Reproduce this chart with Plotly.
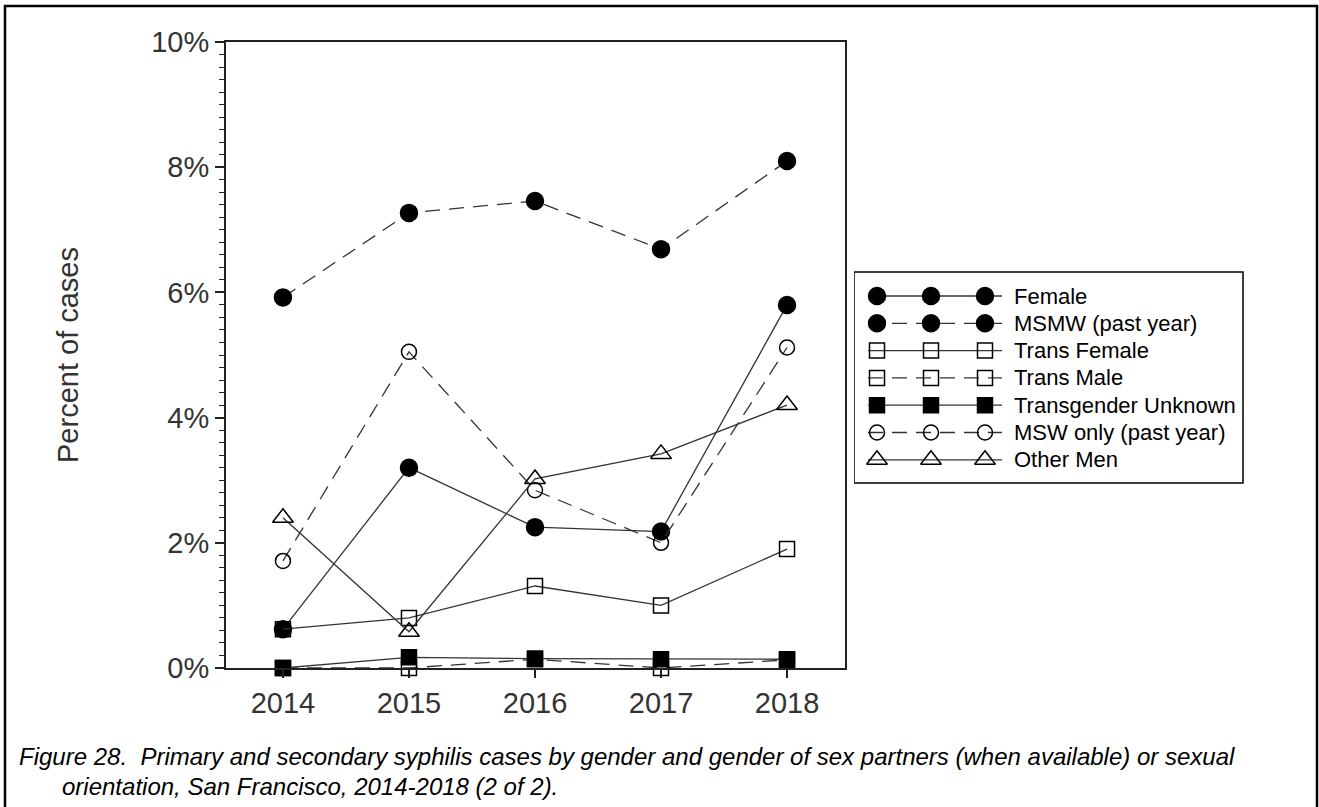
import plotly.graph_objects as go

W, H = 1319, 807

years = [2014, 2015, 2016, 2017, 2018]
female = [0.62, 3.20, 2.25, 2.18, 5.80]
msmw = [5.92, 7.27, 7.46, 6.69, 8.10]
trans_female = [0.62, 0.80, 1.31, 1.00, 1.90]
trans_male = [0.00, 0.00, 0.14, 0.00, 0.13]
trans_unknown = [0.00, 0.17, 0.15, 0.14, 0.14]
msw_only = [1.71, 5.05, 2.84, 2.00, 5.12]
other_men = [2.40, 0.58, 3.02, 3.42, 4.20]

series_names = ["Female", "MSMW (past year)", "Trans Female", "Trans Male",
                "Transgender Unknown", "MSW only (past year)", "Other Men"]
series_values = [female, msmw, trans_female, trans_male, trans_unknown, msw_only, other_men]

y_tick_vals = [0, 2, 4, 6, 8, 10]
y_tick_text = ["0%", "2%", "4%", "6%", "8%", "10%"]

caption1 = "Figure 28.\u00a0 Primary and secondary syphilis cases by gender and gender of sex partners (when available) or sexual"
caption2 = "orientation, San Francisco, 2014-2018 (2 of 2)."

DASH = "15px,9px"
styles = [
    dict(symbol="circle", size=17, dash="solid"),
    dict(symbol="circle", size=17, dash=DASH),
    dict(symbol="square-open", size=15, dash="solid"),
    dict(symbol="square-open", size=15, dash=DASH),
    dict(symbol="square", size=15, dash="solid"),
    dict(symbol="circle-open", size=15, dash=DASH),
    dict(symbol="triangle-up-open", size=18, dash="solid"),
]
LINE_COLOR = "#333333"
FONT = "Liberation Sans, Arial, sans-serif"

fig = go.Figure()

for name, vals, st in zip(series_names, series_values, styles):
    fig.add_trace(go.Scatter(
        x=years, y=vals, name=name, mode="lines+markers",
        line=dict(color=LINE_COLOR, width=1.3, dash=st["dash"]),
        marker=dict(symbol=st["symbol"], size=st["size"], color="#000000", opacity=1,
                    line=dict(color="#000000", width=1.5)),
        cliponaxis=False, showlegend=False,
    ))

# custom legend drawn in a pixel-mapped helper axis
leg_x = [868, 877, 931, 985, 1002]
row0, row_step = 296, 27.3
for i, (name, st) in enumerate(zip(series_names, styles)):
    yy = row0 + i * row_step
    s = st["size"]
    fig.add_trace(go.Scatter(
        x=leg_x, y=[yy] * 5, mode="lines+markers", xaxis="x2", yaxis="y2",
        line=dict(color=LINE_COLOR, width=1.3, dash=st["dash"]),
        marker=dict(symbol=st["symbol"], size=[0, s, s, s, 0], color="#000000", opacity=1,
                    line=dict(color="#000000", width=1.5)),
        showlegend=False, hoverinfo="skip", cliponaxis=False,
    ))
    fig.add_annotation(x=1012, y=yy, xref="x2", yref="y2", text=name,
                       showarrow=False, xanchor="left", yanchor="middle",
                       font=dict(family=FONT, size=22, color="black"))

fig.add_shape(type="rect", xref="x2", yref="y2", x0=854, x1=1243, y0=272, y1=483,
              line=dict(color="black", width=1.5))

# outer frame
fig.add_shape(type="rect", xref="paper", yref="paper",
              x0=5 / W, x1=1317 / W, y0=-0.05, y1=1 - 6 / H,
              line=dict(color="black", width=2.5))

fig.add_annotation(x=68 / W, y=1 - 355 / H, xref="paper", yref="paper",
                   text="Percent of cases", textangle=-90, showarrow=False,
                   xanchor="center", yanchor="middle",
                   font=dict(family=FONT, size=29, color="#333333"))

fig.add_annotation(x=17 / W, y=1 - 756 / H, xref="paper", yref="paper",
                   text="<i>" + caption1 + "</i>", showarrow=False,
                   xanchor="left", yanchor="middle",
                   font=dict(family=FONT, size=24, color="black"))
fig.add_annotation(x=60 / W, y=1 - 786 / H, xref="paper", yref="paper",
                   text="<i>" + caption2 + "</i>", showarrow=False,
                   xanchor="left", yanchor="middle",
                   font=dict(family=FONT, size=24, color="black"))

fig.update_layout(
    width=W, height=H,
    margin=dict(l=0, r=0, t=0, b=0),
    paper_bgcolor="white", plot_bgcolor="white",
    showlegend=False,
    font=dict(family=FONT, color="#333333"),
    xaxis=dict(domain=[226 / W, 845 / W], range=[2013.548, 2018.46],
               tickvals=years, ticktext=[str(y) for y in years],
               ticks="outside", ticklen=8, tickwidth=1.5, tickcolor="#222",
               showline=True, linecolor="#222", linewidth=2, mirror=True,
               showgrid=False, zeroline=False, automargin=False,
               tickfont=dict(family=FONT, size=29, color="#333333")),
    yaxis=dict(domain=[1 - 668 / H, 1 - 42 / H], range=[0, 10],
               tickvals=y_tick_vals, ticktext=y_tick_text,
               ticks="outside", ticklen=9, tickwidth=1.5, tickcolor="#222",
               minor=dict(dtick=0.2, ticks="outside", ticklen=5, tickwidth=1.2,
                          tickcolor="#222", showgrid=False),
               showline=True, linecolor="#222", linewidth=2, mirror=True,
               showgrid=False, zeroline=False, automargin=False,
               tickfont=dict(family=FONT, size=29, color="#333333")),
    xaxis2=dict(domain=[854 / W, 1250 / W], range=[854, 1250], visible=False,
                fixedrange=True),
    yaxis2=dict(domain=[1 - 490 / H, 1 - 268 / H], range=[490, 268], visible=False,
                fixedrange=True),
)

fig.write_html("out.html",
               config={"displayModeBar": False},
               post_script="document.body.style.margin='0px';document.body.style.overflow='hidden';")
